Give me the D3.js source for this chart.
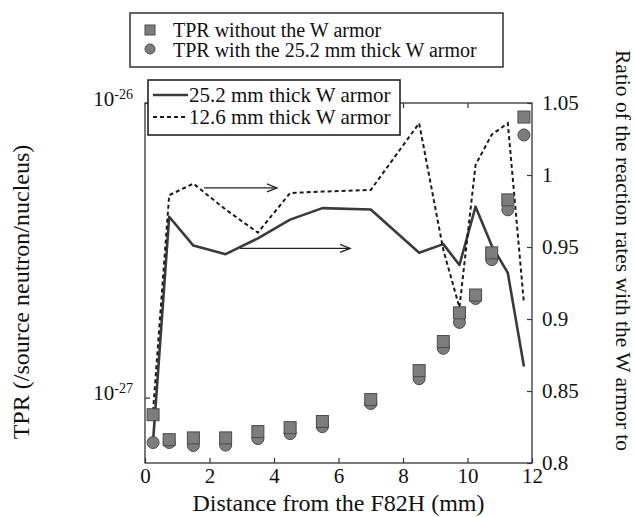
<!DOCTYPE html>
<html><head><meta charset="utf-8">
<script src="https://cdn.jsdelivr.net/npm/d3@7"></script>
<style>body{margin:0;background:#fff}svg{display:block}</style>
</head><body><svg id="c" width="635" height="517">
<rect width="635" height="517" fill="#fff"></rect>
<text x="338.5" y="511" text-anchor="middle" font-size="24" font-family="Liberation Serif" fill="#111">Distance from the F82H (mm)</text>
<text transform="translate(29,292) rotate(-90)" text-anchor="middle" font-size="24" font-family="Liberation Serif" fill="#111">TPR (/source neutron/nucleus)</text>
<text transform="translate(616,50) rotate(90)" font-size="21.5" font-family="Liberation Serif" fill="#111">Ratio of the reaction rates with the W armor to</text>
</svg>
<script>
// ---- data ----
const distance = [0.25, 0.75, 1.5, 2.5, 3.5, 4.5, 5.5, 7, 8.5, 9.25, 9.75, 10.25, 10.75, 11.25, 11.75];
const tprNoArmor = [8.75e-28, 7.2e-28, 7.3e-28, 7.3e-28, 7.67e-28, 7.91e-28, 8.3e-28, 9.85e-28, 1.235e-27, 1.55e-27, 1.94e-27, 2.23e-27, 3.10e-27, 4.69e-27, 8.96e-27];
const tprArmor252 = [7.04e-28, 7.04e-28, 6.88e-28, 6.9e-28, 7.26e-28, 7.55e-28, 7.97e-28, 9.55e-28, 1.16e-27, 1.47e-27, 1.80e-27, 2.17e-27, 2.94e-27, 4.34e-27, 7.79e-27];
const ratio252 = [0.815, 0.971, 0.951, 0.945, 0.956, 0.969, 0.977, 0.976, 0.946, 0.952, 0.9375, 0.978, 0.951, 0.932, 0.867];
const ratio126 = [0.836, 0.986, 0.994, 0.976, 0.960, 0.9875, 0.9885, 0.9896, 1.036, 0.948, 0.908, 1.007, 1.028, 1.036, 0.911];
const xTicks = [0, 2, 4, 6, 8, 10, 12];
const yLeftTicks = [1e-27, 1e-26];
const yRightTicks = [0.8, 0.85, 0.9, 0.95, 1, 1.05];
const scatterLegend = ["TPR without the W armor", "TPR with the 25.2 mm thick W armor"];
const lineLegend = ["25.2 mm thick W armor", "12.6 mm thick W armor"];
// arrows point toward the right-hand axis: [x0, x1, ratio]
const arrows = [[1.83, 4.09, 0.991], [2.95, 6.36, 0.949]];

// ---- layout ----
const svg = d3.select('#c');
const L = 145, R = 532, T = 103, B = 463;
const x = d3.scaleLinear().domain([0, 12]).range([L, R]);
const yL = d3.scaleLog().domain([6.0e-28, 1e-26]).range([B, T]);
const yR = d3.scaleLinear().domain([0.8, 1.05]).range([B, T]);
const axisColor = '#333';
const NS = 'http://www.w3.org/2000/svg';

function txt(sel) {
  return sel.each(function () {
    this.setAttribute('font-family', 'Liberation Serif');
    this.style.fontFamily = "'Liberation Serif'";
  }).attr('fill', '#111');
}

// frame
svg.append('rect').attr('x', L).attr('y', T).attr('width', R - L).attr('height', B - T)
  .attr('fill', 'none').attr('stroke', axisColor).attr('stroke-width', 1.3);

function styleAxis(g) {
  g.attr('font-family', null);
  g.select('.domain').remove();
  g.selectAll('.tick line').attr('stroke', axisColor).attr('stroke-width', 1.2);
  g.selectAll('.tick text').attr('font-size', 21).call(txt);
}

// bottom axis
svg.append('g').attr('transform', `translate(0,${B})`)
  .call(d3.axisBottom(x).tickValues(xTicks).tickSize(-5).tickPadding(5).tickFormat(d3.format('d')))
  .call(styleAxis);
// top axis (ticks only)
svg.append('g').attr('transform', `translate(0,${T})`)
  .call(d3.axisTop(x).tickValues(xTicks.slice(1, -1)).tickSize(-5).tickFormat(''))
  .call(styleAxis);
// right axis
svg.append('g').attr('transform', `translate(${R},0)`)
  .call(d3.axisRight(yR).tickValues(yRightTicks).tickSize(-5).tickPadding(10).tickFormat(d => d3.format('')(d)))
  .call(styleAxis);
// left axis (log)
const gl = svg.append('g').attr('transform', `translate(${L},0)`)
  .call(d3.axisLeft(yL).tickValues(yLeftTicks).tickSize(-5).tickPadding(12).tickFormat(''))
  .call(styleAxis);
gl.selectAll('.tick text').each(function (d) {
  const t = d3.select(this);
  t.text(null).attr('dy', '0.1em');
  t.append('tspan').text('10');
  t.append('tspan').attr('dy', '-0.5em').attr('font-size', 14).text(String(Math.round(Math.log10(d))));
});

// ratio lines
const line252 = d3.line().x((d, i) => x(distance[i])).y(d => yR(d));
svg.append('path').datum(ratio252).attr('d', line252).attr('fill', 'none')
  .attr('stroke', '#3a3a3a').attr('stroke-width', 2.6).attr('stroke-linejoin', 'round');
svg.append('path').datum(ratio126).attr('d', line252).attr('fill', 'none')
  .attr('stroke', '#1a1a1a').attr('stroke-width', 2).attr('stroke-dasharray', '4,3');

// arrows
arrows.forEach(a => {
  const x0 = x(a[0]), x1 = x(a[1]), yy = yR(a[2]);
  svg.append('line').attr('x1', x0).attr('x2', x1).attr('y1', yy).attr('y2', yy)
    .attr('stroke', '#222').attr('stroke-width', 1.3);
  svg.append('path').attr('d', `M${x1 - 10},${yy - 4}L${x1},${yy}L${x1 - 10},${yy + 4}`)
    .attr('fill', 'none').attr('stroke', '#222').attr('stroke-width', 1.3);
});

// markers
const mFill = '#7d7d7d', mStroke = '#4a4a4a', S = 12;
svg.append('g').selectAll('circle').data(tprArmor252).join('circle')
  .attr('cx', (d, i) => x(distance[i])).attr('cy', d => yL(d)).attr('r', S / 2)
  .attr('fill', mFill).attr('stroke', mStroke).attr('stroke-width', 1);
svg.append('g').selectAll('rect').data(tprNoArmor).join('rect')
  .attr('x', (d, i) => x(distance[i]) - S / 2).attr('y', d => yL(d) - S / 2)
  .attr('width', S).attr('height', S)
  .attr('fill', mFill).attr('stroke', mStroke).attr('stroke-width', 1);

// legend 1 (markers)
const lg1 = svg.append('g');
lg1.append('rect').attr('x', 130).attr('y', 13).attr('width', 373).attr('height', 54)
  .attr('fill', '#fff').attr('stroke', '#222').attr('stroke-width', 1.4);
lg1.append('rect').attr('x', 145).attr('y', 25).attr('width', 10).attr('height', 10)
  .attr('fill', mFill).attr('stroke', mStroke);
lg1.append('circle').attr('cx', 150).attr('cy', 49).attr('r', 5)
  .attr('fill', mFill).attr('stroke', mStroke);
scatterLegend.forEach((s, i) => lg1.append('text').attr('x', 173).attr('y', 37 + i * 20)
  .attr('font-size', 20).call(txt).text(s));

// legend 2 (lines)
const lg2 = svg.append('g');
lg2.append('rect').attr('x', 148).attr('y', 80).attr('width', 252).attr('height', 55)
  .attr('fill', '#fff').attr('stroke', '#222').attr('stroke-width', 1.6);
lineLegend.forEach((s, i) => {
  const yy = 95 + i * 22;
  lg2.append('line').attr('x1', 153).attr('x2', 188).attr('y1', yy).attr('y2', yy)
    .attr('stroke', i ? '#1a1a1a' : '#3a3a3a').attr('stroke-width', i ? 2 : 2.6)
    .attr('stroke-dasharray', i ? '4,3' : null);
  lg2.append('text').attr('x', 189).attr('y', yy + 7).attr('font-size', 21).call(txt).text(s);
});
</script>
</body></html>
